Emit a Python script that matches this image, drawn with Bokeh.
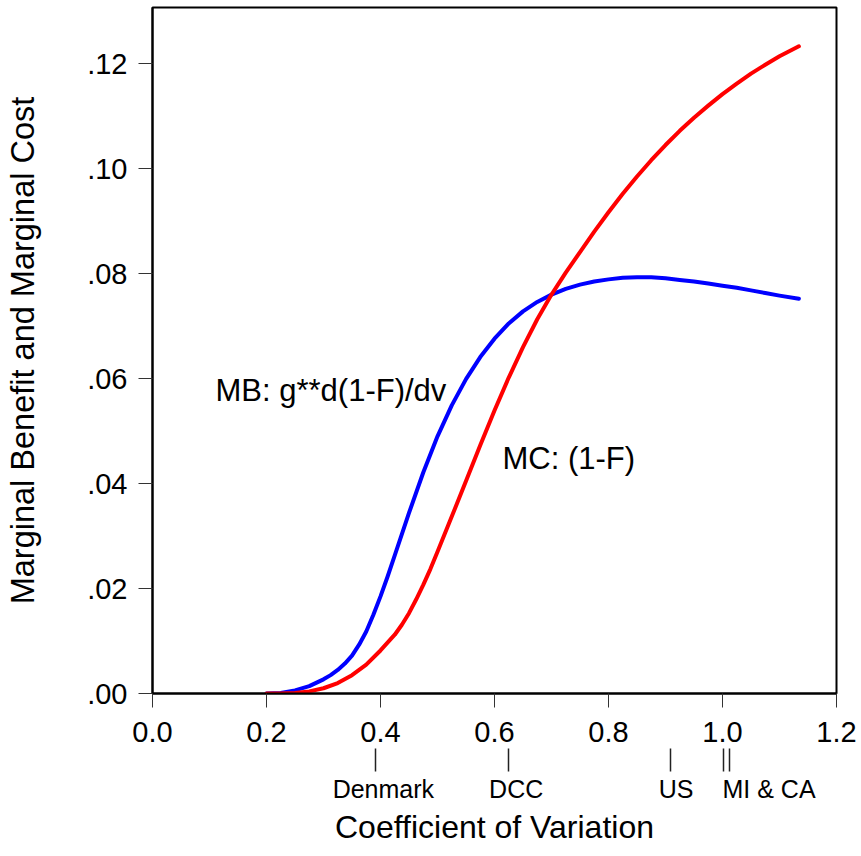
from bokeh.plotting import figure
from bokeh.models import Range1d, FixedTicker, Label, LinearAxis
from bokeh.embed import file_html
from bokeh.resources import INLINE

# Marginal cost curve, MC = (1-F), against the coefficient of variation
cv_mc = [0.200, 0.225, 0.250, 0.275, 0.300, 0.325, 0.350, 0.375, 0.400, 0.425,
         0.4375, 0.450, 0.4625, 0.475, 0.4875, 0.500, 0.525, 0.550, 0.575, 0.600,
         0.625, 0.650, 0.675, 0.700, 0.725, 0.750, 0.775, 0.800, 0.825, 0.850,
         0.875, 0.900, 0.925, 0.950, 0.975, 1.000, 1.025, 1.050, 1.075, 1.100,
         1.134]
mc = [0.0000, 0.0000, 0.0001, 0.0004, 0.0010, 0.0020, 0.0035, 0.0055, 0.0082, 0.0112,
      0.0131, 0.0153, 0.0179, 0.0207, 0.0237, 0.0270, 0.0337, 0.0405, 0.0473, 0.0539,
      0.0602, 0.0660, 0.0713, 0.0760, 0.0802, 0.0841, 0.0880, 0.0917, 0.0952, 0.0985,
      0.1016, 0.1045, 0.1072, 0.1097, 0.1120, 0.1142, 0.1162, 0.1181, 0.1198, 0.1214,
      0.1233]

# Marginal benefit curve, MB = g** d(1-F)/dv
cv_mb = [0.200, 0.225, 0.250, 0.275, 0.300, 0.3125, 0.325, 0.3375, 0.350, 0.3625,
         0.375, 0.3875, 0.400, 0.4125, 0.425, 0.450, 0.475, 0.500, 0.525, 0.550,
         0.575, 0.600, 0.625, 0.650, 0.675, 0.700, 0.725, 0.750, 0.775, 0.800,
         0.825, 0.850, 0.875, 0.900, 0.925, 0.950, 0.975, 1.000, 1.025, 1.050,
         1.075, 1.100, 1.134]
mb = [0.0000, 0.0001, 0.0006, 0.0014, 0.0027, 0.0035, 0.0045, 0.0057, 0.0072, 0.0093,
      0.0118, 0.0150, 0.0185, 0.0223, 0.0263, 0.0344, 0.0421, 0.0490, 0.0549, 0.0599,
      0.0641, 0.0676, 0.0705, 0.0728, 0.0746, 0.0760, 0.0771, 0.0779, 0.0785, 0.0789,
      0.0792, 0.0793, 0.0793, 0.0791, 0.0788, 0.0785, 0.0781, 0.0777, 0.0773, 0.0768,
      0.0763, 0.0758, 0.0752]

x_ticks = [0.0, 0.2, 0.4, 0.6, 0.8, 1.0, 1.2]
x_tick_labels = ["0.0", "0.2", "0.4", "0.6", "0.8", "1.0", "1.2"]
y_ticks = [0.00, 0.02, 0.04, 0.06, 0.08, 0.10, 0.12]
y_tick_labels = [".00", ".02", ".04", ".06", ".08", ".10", ".12"]

# Observed coefficients of variation marked under the axis
marker_cv = [0.391, 0.624, 0.908, 1.001, 1.013]
place_names = ["Denmark", "DCC", "US", "MI & CA"]
place_cv = [0.391, 0.624, 0.908, 1.001]

FONT = "Liberation Sans"
X0, X1 = 0.0, 1.2
FRAME_W = 684

p = figure(width=861, height=856,
           x_range=Range1d(X0, X1), y_range=Range1d(0, 0.1307),
           output_backend="svg", toolbar_location=None,
           min_border_left=152, min_border_right=25,
           min_border_top=7, min_border_bottom=163)

p.background_fill_color = "white"
p.border_fill_color = "white"
p.grid.visible = False
p.outline_line_color = "black"
p.outline_line_width = 2

for ax in (p.xaxis[0], p.yaxis[0]):
    ax.axis_line_color = "black"
    ax.axis_line_width = 2
    ax.major_tick_in = 0
    ax.major_tick_out = 14
    ax.major_tick_line_color = "#333333"
    ax.major_tick_line_width = 1
    ax.minor_tick_line_color = None
    ax.major_label_text_font = FONT
    ax.major_label_text_font_size = "29px"
    ax.major_label_text_color = "black"
    ax.axis_label_text_font = FONT
    ax.axis_label_text_font_style = "normal"
    ax.axis_label_text_color = "black"

p.xaxis.ticker = FixedTicker(ticks=x_ticks)
p.xaxis.major_label_overrides = dict(zip(x_ticks, x_tick_labels))
p.xaxis.major_label_standoff = 14

p.yaxis.ticker = FixedTicker(ticks=y_ticks)
p.yaxis.major_label_overrides = dict(zip(y_ticks, y_tick_labels))
p.yaxis.major_label_standoff = 11
p.yaxis.major_label_orientation = "horizontal"
p.yaxis.axis_label = "Marginal Benefit and Marginal Cost"
p.yaxis.axis_label_text_font_size = "32.5px"
p.yaxis.axis_label_standoff = 43

# Second row under the axis: short marks at the observed values (no labels)
marks_axis = LinearAxis(ticker=FixedTicker(ticks=marker_cv),
                        major_label_overrides={v: "" for v in marker_cv},
                        axis_line_color=None,
                        major_tick_in=-4, major_tick_out=27,
                        major_tick_line_color="#222222", major_tick_line_width=1.5,
                        minor_tick_line_color=None,
                        major_label_text_font_size="1px", major_label_standoff=0)
p.add_layout(marks_axis, "below")

# Third row: place names (nudged right of their marks) and the axis title
nudge_px = {"Denmark": 8, "DCC": 8, "US": 6, "MI & CA": 46}
name_pos = [v + nudge_px[n] * (X1 - X0) / FRAME_W for n, v in zip(place_names, place_cv)]
names_axis = LinearAxis(ticker=FixedTicker(ticks=name_pos),
                        major_label_overrides=dict(zip(name_pos, place_names)),
                        axis_line_color=None,
                        major_tick_in=0, major_tick_out=0,
                        major_tick_line_color=None, minor_tick_line_color=None,
                        major_label_text_font=FONT, major_label_text_font_size="25px",
                        major_label_text_color="black", major_label_standoff=3,
                        axis_label="Coefficient of Variation",
                        axis_label_text_font=FONT, axis_label_text_font_size="32px",
                        axis_label_text_font_style="normal",
                        axis_label_text_color="black", axis_label_standoff=3)
p.add_layout(names_axis, "below")

p.line(cv_mb, mb, line_color="#0000FF", line_width=4, line_cap="round", line_join="round")
p.line(cv_mc, mc, line_color="#FF0000", line_width=4, line_cap="round", line_join="round")

p.add_layout(Label(x=0.1105, y=0.0577, text="MB: g**d(1-F)/dv",
                   text_font=FONT, text_font_size="31px", text_color="black",
                   text_baseline="alphabetic", text_align="left"))
p.add_layout(Label(x=0.614, y=0.0448, text="MC: (1-F)",
                   text_font=FONT, text_font_size="31px", text_color="black",
                   text_baseline="alphabetic", text_align="left"))

open("out.html", "w").write(file_html(p, INLINE))
